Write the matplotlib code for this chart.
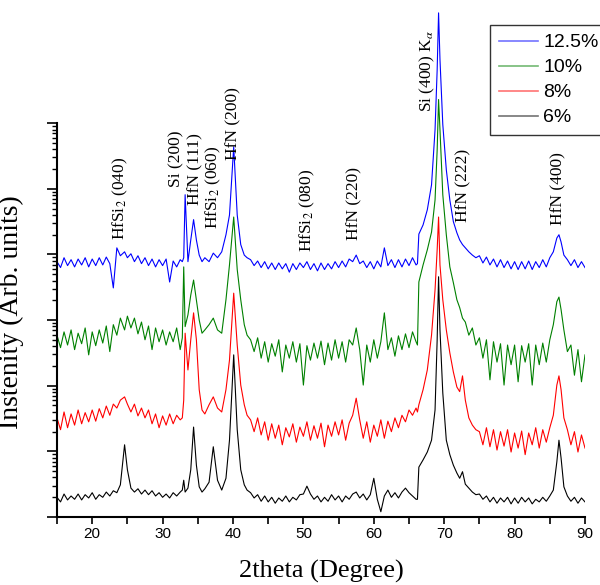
import numpy as np
import matplotlib.pyplot as plt
from matplotlib.lines import Line2D

plt.rcParams['font.family'] = ['Liberation Serif', 'DejaVu Serif']
plt.rcParams['mathtext.fontset'] = 'stix'

# 2theta sampling positions (degree)
two_theta = [
    15.0, 15.5, 16.0, 16.5, 17.0, 17.5, 18.0, 18.5, 19.0, 19.5, 20.0, 20.5,
    21.0, 21.5, 22.0, 22.5, 23.0, 23.5, 24.0, 24.6, 25.0, 25.5, 26.0, 26.5,
    27.0, 27.5, 28.0, 28.5, 29.0, 29.5, 30.0, 30.5, 31.0, 31.5, 32.0, 32.5,
    32.8, 33.0, 33.2, 33.6, 34.0, 34.4, 34.8, 35.2, 35.6, 36.0, 36.6, 37.2,
    37.8, 38.4, 39.0, 39.5, 40.1, 40.6, 41.1, 41.6, 42.0,
    42.5, 43.0, 43.5, 44.0, 44.5, 45.0, 45.5, 46.0, 46.5, 47.0, 47.5, 48.0,
    48.5, 49.0, 49.5, 50.0, 50.5, 51.0, 51.5, 52.0, 52.5, 53.0, 53.5, 54.0,
    54.5, 55.0, 55.5, 56.0, 56.5, 57.0, 57.5, 58.0, 58.5, 59.0, 59.5, 60.0,
    60.5, 61.0, 61.5, 62.0, 62.5, 63.0, 63.5, 64.0, 64.5, 65.0, 65.5, 66.0,
    66.2, 66.4, 67.0, 67.6, 68.2, 68.7, 69.0, 69.2, 69.4, 69.8, 70.3, 70.8,
    71.3, 71.8, 72.2, 72.6, 73.0, 73.5, 74.0, 74.5,
    75.0, 75.5, 76.0, 76.5, 77.0, 77.5, 78.0, 78.5, 79.0, 79.5, 80.0, 80.5,
    81.0, 81.5, 82.0, 82.5, 83.0, 83.5, 84.0, 84.5, 85.0, 85.5, 86.0, 86.3,
    86.6, 87.0, 87.5, 88.0, 88.5, 89.0, 89.5, 90.0,
]

# log10 of stacked intensity (arb. units) for each N2 fraction
lg_12p5 = [
    3.89, 3.80, 3.95, 3.83, 3.92, 3.81, 3.93, 3.84, 3.95, 3.81, 3.93, 3.83,
    3.95, 3.84, 3.96, 3.86, 3.49, 4.10, 3.98, 4.04, 3.95, 4.01, 3.89, 3.98,
    3.86, 3.95, 3.83, 3.93, 3.81, 3.92, 3.83, 3.93, 3.58, 3.90, 3.81, 3.92,
    3.89, 3.95, 4.91, 3.89, 4.22, 4.53, 4.22, 3.99, 3.89, 3.95, 3.89, 4.02,
    3.95, 4.04, 4.30, 4.60, 5.64, 4.60, 4.15, 3.99, 3.95,
    3.92, 3.83, 3.90, 3.80, 3.89, 3.78, 3.87, 3.77, 3.87, 3.78, 3.86, 3.73,
    3.86, 3.77, 3.87, 3.80, 3.89, 3.77, 3.86, 3.75, 3.87, 3.77, 3.86, 3.78,
    3.89, 3.80, 3.90, 3.81, 3.93, 3.89, 3.99, 3.86, 3.90, 3.80, 3.89, 3.78,
    3.90, 3.81, 4.10, 3.83, 3.92, 3.80, 3.92, 3.81, 3.93, 3.83, 3.95, 3.84,
    3.86, 4.31, 4.45, 4.68, 5.06, 5.90, 6.81, 7.68, 6.97, 5.98, 5.29, 4.83,
    4.50, 4.33, 4.22, 4.15, 4.10, 4.04, 3.99, 3.95,
    3.98, 3.87, 3.96, 3.84, 3.93, 3.81, 3.92, 3.80, 3.90, 3.78, 3.89, 3.77,
    3.89, 3.78, 3.90, 3.77, 3.89, 3.80, 3.92, 3.81, 3.95, 4.04, 4.25, 4.30,
    4.19, 3.99, 3.92, 3.83, 3.92, 3.80, 3.89, 3.80,
]
lg_10 = [
    2.77, 2.58, 2.82, 2.62, 2.85, 2.55, 2.80, 2.64, 2.88, 2.47, 2.82, 2.61,
    2.85, 2.65, 2.91, 2.52, 2.93, 2.77, 3.03, 2.85, 3.06, 2.88, 3.03, 2.79,
    2.97, 2.70, 2.91, 2.55, 2.88, 2.67, 2.85, 2.62, 2.82, 2.67, 2.88, 2.55,
    2.73, 3.81, 2.90, 3.08, 3.38, 3.61, 3.31, 3.00, 2.80, 2.85, 2.93, 3.03,
    2.85, 2.80, 3.31, 3.84, 4.57, 3.77, 3.31, 2.93, 2.77,
    2.70, 2.52, 2.73, 2.42, 2.67, 2.36, 2.64, 2.45, 2.70, 2.21, 2.62, 2.42,
    2.67, 2.36, 2.64, 2.01, 2.61, 2.39, 2.65, 2.42, 2.68, 2.32, 2.65, 2.39,
    2.70, 2.42, 2.67, 2.36, 2.70, 2.62, 2.88, 2.55, 2.01, 2.62, 2.36, 2.70,
    2.42, 2.67, 3.11, 2.55, 2.73, 2.45, 2.76, 2.55, 2.79, 2.58, 2.82, 2.67,
    2.62, 3.58, 3.84, 4.07, 4.34, 4.83, 5.59, 6.36, 5.90, 4.91, 4.30, 3.81,
    3.57, 3.31, 3.19, 3.03, 2.97, 2.77, 2.88, 2.62,
    2.73, 2.42, 2.70, 2.09, 2.67, 2.36, 2.64, 2.01, 2.62, 2.32, 2.62, 2.06,
    2.61, 2.36, 2.64, 2.01, 2.62, 2.32, 2.65, 2.36, 2.70, 2.93, 3.28, 3.35,
    3.16, 2.85, 2.52, 2.62, 2.16, 2.55, 2.06, 2.47,
]
lg_8 = [
    1.51, 1.33, 1.60, 1.36, 1.57, 1.40, 1.63, 1.42, 1.59, 1.45, 1.63, 1.46,
    1.65, 1.51, 1.69, 1.55, 1.72, 1.66, 1.78, 1.83, 1.72, 1.60, 1.72, 1.54,
    1.66, 1.51, 1.63, 1.42, 1.57, 1.36, 1.54, 1.40, 1.57, 1.42, 1.55, 1.48,
    1.51, 1.78, 2.80, 2.24, 2.70, 3.11, 2.70, 1.94, 1.63, 1.57, 1.71, 1.83,
    1.66, 1.60, 1.94, 2.39, 3.41, 2.62, 2.01, 1.71, 1.55,
    1.48, 1.30, 1.51, 1.25, 1.45, 1.17, 1.42, 1.20, 1.40, 1.10, 1.36, 1.22,
    1.42, 1.14, 1.37, 1.23, 1.45, 1.17, 1.39, 1.20, 1.43, 1.07, 1.40, 1.23,
    1.45, 1.25, 1.48, 1.17, 1.43, 1.55, 1.81, 1.48, 1.20, 1.45, 1.14, 1.40,
    1.23, 1.48, 1.20, 1.46, 1.30, 1.51, 1.36, 1.55, 1.45, 1.63, 1.55, 1.66,
    1.60, 1.71, 1.94, 2.24, 2.77, 3.46, 4.07, 4.57, 3.84, 3.31, 2.85, 2.50,
    2.21, 1.98, 1.91, 2.15, 1.78, 1.51, 1.40, 1.33,
    1.30, 1.10, 1.36, 1.07, 1.33, 1.02, 1.30, 1.08, 1.33, 0.99, 1.28, 1.05,
    1.31, 0.95, 1.28, 1.10, 1.36, 1.05, 1.33, 1.14, 1.36, 1.55, 2.01, 2.15,
    1.94, 1.51, 1.33, 1.10, 1.30, 0.99, 1.25, 1.05,
]
lg_6 = [
    0.30, 0.23, 0.35, 0.26, 0.32, 0.27, 0.35, 0.26, 0.34, 0.29, 0.37, 0.27,
    0.34, 0.30, 0.38, 0.32, 0.40, 0.37, 0.49, 1.10, 0.72, 0.44, 0.38, 0.43,
    0.35, 0.41, 0.34, 0.40, 0.32, 0.37, 0.30, 0.35, 0.29, 0.37, 0.32, 0.38,
    0.41, 0.56, 0.38, 0.44, 0.72, 1.37, 0.79, 0.46, 0.38, 0.43, 0.53, 1.07,
    0.56, 0.41, 0.59, 1.17, 2.47, 1.33, 0.72, 0.49, 0.41,
    0.37, 0.29, 0.34, 0.24, 0.32, 0.23, 0.30, 0.21, 0.29, 0.24, 0.32, 0.23,
    0.30, 0.26, 0.34, 0.35, 0.47, 0.35, 0.27, 0.32, 0.23, 0.30, 0.24, 0.34,
    0.26, 0.32, 0.23, 0.32, 0.27, 0.35, 0.38, 0.29, 0.35, 0.26, 0.34, 0.59,
    0.27, 0.08, 0.32, 0.41, 0.30, 0.37, 0.29, 0.38, 0.44, 0.37, 0.32, 0.27,
    0.27, 0.76, 0.87, 0.99, 1.17, 1.63, 2.70, 3.66, 2.85, 1.89, 1.17, 0.95,
    0.79, 0.67, 0.59, 0.69, 0.50, 0.44, 0.38, 0.34,
    0.35, 0.27, 0.32, 0.23, 0.30, 0.21, 0.29, 0.23, 0.30, 0.20, 0.29, 0.21,
    0.30, 0.23, 0.29, 0.20, 0.27, 0.23, 0.30, 0.24, 0.32, 0.41, 0.84, 1.17,
    0.90, 0.46, 0.32, 0.24, 0.30, 0.21, 0.29, 0.23,
]

series_labels = ['12.5%', '10%', '8%', '6%']
series_colors = ['#0000ff', '#008000', '#ff0000', '#000000']

# peak labels: text, 2theta, log10 level of text bottom
peak_names = ['HfSi$_2$ (040)', 'Si (200)', 'HfN (111)', 'HfSi$_2$ (060)',
              'HfN (200)', 'HfSi$_2$ (080)', 'HfN (220)',
              r'Si (400) K$_\alpha$', 'HfN (222)', 'HfN (400)']
peak_x = [24.0, 31.9, 34.6, 37.2, 40.0, 50.5, 57.3, 67.6, 72.7, 86.2]
peak_lvl = [4.22, 5.03, 4.76, 4.38, 5.44, 4.04, 4.22, 6.17, 4.50, 4.45]

fig = plt.figure(figsize=(6.0, 5.85), dpi=100)
ax = fig.add_axes([57 / 600, 1 - 517 / 585, 528 / 600, 512 / 585])

x = np.array(two_theta)
for lg, lab, col in zip([lg_12p5, lg_10, lg_8, lg_6], series_labels, series_colors):
    ax.plot(x, np.power(10.0, lg), color=col, lw=0.8, label=lab)

ax.set_yscale('log')
ax.set_xlim(15, 90)
ax.set_ylim(1, 10 ** 7.80)

# y axis only drawn over six decades, no labels
ax.set_yticks([10.0 ** k for k in range(7)])
ax.set_yticks([m * 10.0 ** k for k in range(6) for m in range(2, 10)], minor=True)
ax.set_yticklabels([])
ax.set_yticklabels([], minor=True)
ax.spines['left'].set_bounds(1, 1e6)
ax.spines['top'].set_visible(False)
ax.spines['right'].set_visible(False)
for s in ['left', 'bottom']:
    ax.spines[s].set_linewidth(1.5)

ax.set_xticks([20, 30, 40, 50, 60, 70, 80, 90])
ax.set_xticks([15, 25, 35, 45, 55, 65, 75, 85], minor=True)
ax.tick_params(axis='x', which='both', direction='out', length=5, width=1.2,
               labelsize=11, labelfontfamily='Liberation Sans', pad=2)
ax.tick_params(axis='y', which='major', direction='out', length=7, width=1.2)
ax.tick_params(axis='y', which='minor', direction='out', length=3.5, width=1)

ax.set_xlabel('2theta (Degree)', fontsize=19, labelpad=14)
ax.set_ylabel('Instenity (Arb. units)', fontsize=20)
ax.yaxis.set_label_coords(-0.063, 0.40)

for name, px, lv in zip(peak_names, peak_x, peak_lvl):
    ax.text(px, 10 ** lv, name, rotation=90, ha='center', va='bottom',
            fontsize=12.5)

handles = [Line2D([], [], color=c, lw=1.2, alpha=0.55) for c in series_colors]
leg = fig.legend(handles, series_labels, loc='upper left',
                 bbox_to_anchor=(490 / 600, 1 - 25 / 585),
                 prop={'family': 'Liberation Sans', 'size': 14},
                 frameon=True, fancybox=False, edgecolor='black',
                 handlelength=2.0, handletextpad=0.3, labelspacing=0.38,
                 borderpad=0.45, borderaxespad=0)
leg.get_frame().set_linewidth(1.0)

plt.savefig('out.png', dpi=100)
